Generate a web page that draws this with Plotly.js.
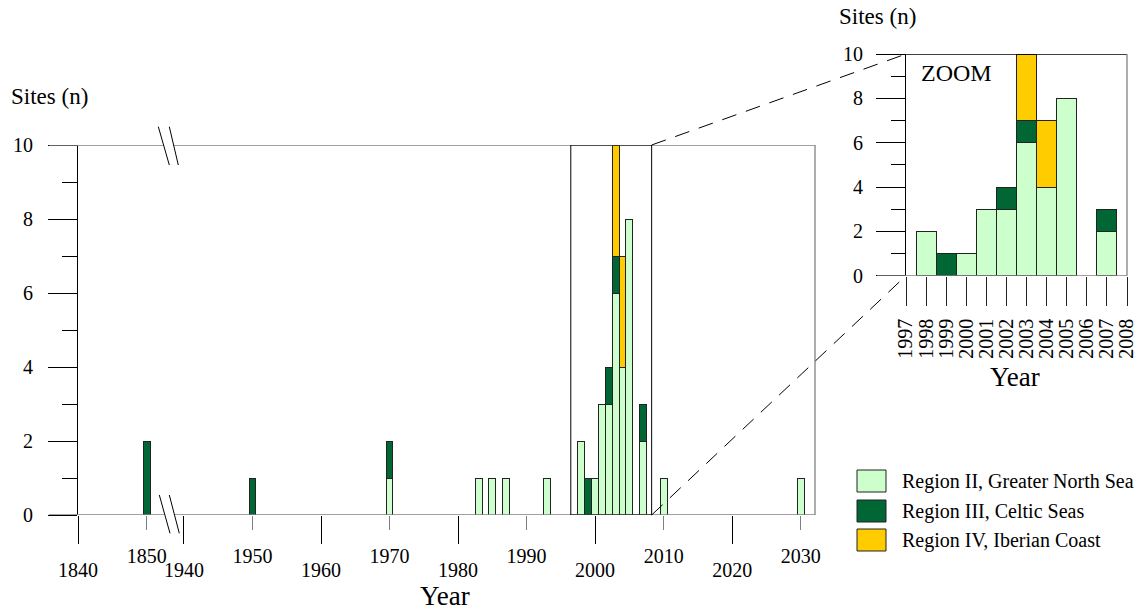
<!DOCTYPE html>
<html>
<head>
<meta charset="utf-8">
<script src="https://cdn.plot.ly/plotly-3.0.1.min.js"></script>
<style>html,body{margin:0;padding:0;background:#fff;}#chart{width:1141px;height:610px;}</style>
</head>
<body>
<div id="chart"></div>
<script>
// ---- data ----
const years     = [1850, 1950, 1970, 1983, 1985, 1987, 1993, 1998, 1999, 2000, 2001, 2002, 2003, 2004, 2005, 2007, 2010, 2030];
const regionII  = [0,    0,    1,    1,    1,    1,    1,    2,    0,    1,    3,    3,    6,    4,    8,    2,    1,    1];
const regionIII = [2,    1,    1,    0,    0,    0,    0,    0,    1,    0,    0,    1,    1,    0,    0,    1,    0,    0];
const regionIV  = [0,    0,    0,    0,    0,    0,    0,    0,    0,    0,    0,    0,    3,    3,    0,    0,    0,    0];
const seriesNames  = ["Region II, Greater North Sea", "Region III, Celtic Seas", "Region IV, Iberian Coast"];
const seriesValues = [regionII, regionIII, regionIV];
const seriesColors = ["#ccffcc", "#006633", "#ffcc00"];
const yTicks      = [0, 2, 4, 6, 8, 10];
const yMinorTicks = [1, 3, 5, 7, 9];
const leftShortTicks  = [1850];
const leftLongTicks   = [1840];
const rightShortTicks = [1950, 1970, 1990, 2010, 2030];
const rightLongTicks  = [1940, 1960, 1980, 2000, 2020];
const zoomTicks = [1997, 1998, 1999, 2000, 2001, 2002, 2003, 2004, 2005, 2006, 2007, 2008];
const zoomWindow = [1996.45, 2008.25];

// ---- geometry (pixels) ----
const W = 1141, H = 610;
const px = v => v / W, py = v => 1 - v / H;
const M = {L: 78, BRK: 172, R: 815, T: 145, B: 515};
const Z = {L: 906, R: 1127, T: 54, B: 275.7};
const leftRange  = [1840, 1853.66];
const rightRange = [1938.25, 2032.09];
const zoomRange  = [1997, 2008];

const FONT = "Liberation Serif, Times New Roman, serif";
const GRAY = "#808080";

// ---- traces ----
const traces = [];
const groups = [
  {xa: "x",  ya: "y",  keep: y => y < 1900},
  {xa: "x2", ya: "y",  keep: y => y >= 1900},
  {xa: "x5", ya: "y2", keep: y => y >= zoomRange[0] && y <= zoomRange[1]}
];
groups.forEach(g => {
  seriesValues.forEach((vals, i) => {
    const xs = [], ys = [];
    years.forEach((yr, k) => { if (g.keep(yr) && vals[k] > 0) { xs.push(yr); ys.push(vals[k]); } });
    traces.push({
      type: "bar", x: xs, y: ys, width: 1, xaxis: g.xa, yaxis: g.ya,
      name: seriesNames[i], showlegend: false, hoverinfo: "x+y+name",
      marker: {color: seriesColors[i], line: {color: "#222", width: 1}}
    });
  });
});
// empty traces so the overlaid tick-only axes (long ticks) get drawn
["x3", "x4"].forEach(a => traces.push({type: "scatter", mode: "markers", x: [], y: [], xaxis: a, yaxis: "y", showlegend: false, hoverinfo: "skip"}));

// ---- axes ----
const tickFont = {family: FONT, size: 20, color: "#000"};
function xAxis(domain, range, vals, len, color, extra) {
  return Object.assign({
    domain: domain, range: range, anchor: "y", tickmode: "array", tickvals: vals,
    ticktext: vals.map(String), ticks: "outside", ticklen: len, tickwidth: 1, tickcolor: color,
    showgrid: false, zeroline: false, showline: false, tickfont: tickFont, fixedrange: true,
    ticklabelstandoff: 9
  }, extra || {});
}
const layout = {
  width: W, height: H, autosize: false,
  margin: {l: 0, r: 0, t: 0, b: 0, pad: 0},
  paper_bgcolor: "#fff", plot_bgcolor: "rgba(0,0,0,0)",
  barmode: "stack", showlegend: false,
  font: {family: FONT, color: "#000"},
  xaxis:  xAxis([px(M.L), px(M.BRK)], leftRange,  leftShortTicks, 14, GRAY),
  xaxis3: xAxis([px(M.L), px(M.BRK)], leftRange,  leftLongTicks,  28, "#000", {overlaying: "x"}),
  xaxis2: xAxis([px(M.BRK), px(M.R)], rightRange, rightShortTicks, 14, GRAY),
  xaxis4: xAxis([px(M.BRK), px(M.R)], rightRange, rightLongTicks,  28, "#000", {overlaying: "x2"}),
  yaxis: {
    domain: [py(M.B), py(M.T)], range: [0, 10], anchor: "x", tickmode: "array", tickvals: yTicks,
    ticks: "outside", ticklen: 29, tickwidth: 1, tickcolor: "#000", showline: true, linecolor: "#000", linewidth: 1,
    showgrid: false, zeroline: false, tickfont: tickFont, fixedrange: true, ticklabelstandoff: 11,
    minor: {tickmode: "array", tickvals: yMinorTicks, ticks: "outside", ticklen: 15, tickwidth: 1, tickcolor: "#000", showgrid: false}
  },
  xaxis5: {
    domain: [px(Z.L), px(Z.R)], range: zoomRange, anchor: "y2", tickmode: "array", tickvals: zoomTicks,
    ticktext: zoomTicks.map(String), tickangle: -90,
    ticks: "outside", ticklen: 29, tickwidth: 1, tickcolor: "#222", showline: false,
    showgrid: false, zeroline: false, tickfont: tickFont, fixedrange: true, ticklabelstandoff: 5
  },
  yaxis2: {
    domain: [py(Z.B), py(Z.T)], range: [0, 10], anchor: "x5", tickmode: "array", tickvals: yTicks,
    ticks: "outside", ticklen: 29, tickwidth: 1, tickcolor: "#000", showline: true, linecolor: "#000", linewidth: 1,
    showgrid: false, zeroline: false, tickfont: tickFont, fixedrange: true, ticklabelstandoff: 9,
    minor: {tickmode: "array", tickvals: yMinorTicks, ticks: "outside", ticklen: 14, tickwidth: 1, tickcolor: "#000", showgrid: false}
  },
  shapes: [], annotations: []
};

// helpers to map right-segment data x to paper
const x2p = x => px(M.BRK) + (x - rightRange[0]) / (rightRange[1] - rightRange[0]) * (px(M.R) - px(M.BRK));
const y1p = y => py(M.B) + y / 10 * (py(M.T) - py(M.B));
const y2p = y => py(Z.B) + y / 10 * (py(Z.T) - py(Z.B));

const S = layout.shapes;
// main frame lines (gray) at 0 and 10, right border
S.push({type: "line", xref: "paper", yref: "y", x0: px(49), x1: px(M.R), y0: 0, y1: 0, line: {color: GRAY, width: 1.3}, layer: "above"});
S.push({type: "line", xref: "paper", yref: "y", x0: px(49), x1: px(M.R), y0: 10, y1: 10, line: {color: GRAY, width: 1.3}, layer: "above"});
S.push({type: "line", xref: "x2 domain", yref: "y domain", x0: 1, x1: 1, y0: 0, y1: 1, line: {color: GRAY, width: 1.3}, layer: "above"});
// axis breaks
function brk(yTop, yBot, xa1, xa2, xb1, xb2) {
  S.push({type: "path", xref: "paper", yref: "paper",
    path: `M${px(xa1)},${py(yTop)} L${px(xb1)},${py(yTop)} L${px(xb2)},${py(yBot)} L${px(xa2)},${py(yBot)} Z`,
    fillcolor: "#fff", line: {width: 0}, layer: "above"});
  S.push({type: "line", xref: "paper", yref: "paper", x0: px(xa1), y0: py(yTop), x1: px(xa2), y1: py(yBot), line: {color: "#000", width: 1}, layer: "above"});
  S.push({type: "line", xref: "paper", yref: "paper", x0: px(xb1), y0: py(yTop), x1: px(xb2), y1: py(yBot), line: {color: "#000", width: 1}, layer: "above"});
}
brk(126.7, 165, 158.3, 169.3, 169.3, 178.3);
brk(495, 533.3, 159.3, 170, 169.3, 179.3);
// zoom window rectangle
S.push({type: "rect", xref: "x2", yref: "y", x0: zoomWindow[0], x1: zoomWindow[1], y0: 0, y1: 10, line: {color: "#000", width: 1}, layer: "above"});
// dashed connector lines
S.push({type: "line", xref: "paper", yref: "paper", x0: x2p(zoomWindow[1]), y0: y1p(10), x1: px(Z.L), y1: y2p(10), line: {color: "#000", width: 1, dash: "15px,10px"}});
S.push({type: "line", xref: "paper", yref: "paper", x0: x2p(zoomWindow[1]), y0: y1p(0), x1: px(Z.L), y1: y2p(0), line: {color: "#000", width: 1, dash: "15px,10px"}});
// inset frame
S.push({type: "line", xref: "paper", yref: "y2", x0: px(877), x1: px(Z.R), y0: 0, y1: 0, line: {color: GRAY, width: 1.3}, layer: "above"});
S.push({type: "line", xref: "x5 domain", yref: "y2", x0: 0, x1: 1, y0: 10, y1: 10, line: {color: "#000", width: 1.3}, layer: "above"});
S.push({type: "line", xref: "x5 domain", yref: "y2 domain", x0: 1, x1: 1, y0: 0, y1: 1, line: {color: GRAY, width: 1.3}, layer: "above"});

// ---- legend (custom, larger swatches) ----
const A = layout.annotations;
const legRows = [481, 511, 540];
seriesNames.forEach((n, i) => {
  S.push({type: "rect", xref: "paper", yref: "paper", x0: px(857), x1: px(886), y0: py(legRows[i] + 11), y1: py(legRows[i] - 11),
    fillcolor: seriesColors[i], line: {color: "#222", width: 1}});
  A.push({text: n, xref: "paper", yref: "paper", x: px(900), y: py(legRows[i]), xanchor: "left", yanchor: "middle",
    showarrow: false, font: {family: FONT, size: 20, color: "#000"}});
});

// ---- titles / labels ----
function label(text, x, y, size, xanchor) {
  A.push({text: text, xref: "paper", yref: "paper", x: px(x), y: py(y), xanchor: xanchor || "left", yanchor: "middle",
    showarrow: false, font: {family: FONT, size: size, color: "#000"}});
}
label("Sites (n)", 9, 96, 23);
label("Sites (n)", 837, 17, 23);
label("ZOOM", 919, 73, 24);
label("Year", 445, 596, 27, "center");
label("Year", 1015, 377, 27, "center");

Plotly.newPlot("chart", traces, layout, {staticPlot: true, displayModeBar: false});
</script>
</body>
</html>
